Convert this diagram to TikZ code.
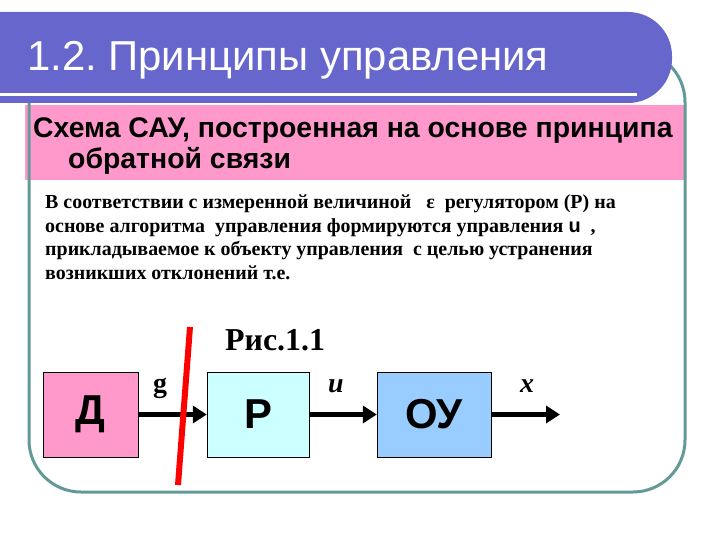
\documentclass[tikz,border=0pt]{standalone}
\usepackage{fontspec}
\setmainfont{Liberation Serif}
\newfontfamily\arialfont{Liberation Sans}
\usetikzlibrary{arrows.meta}
\definecolor{barblue}{RGB}{102,102,204}
\definecolor{bandpink}{RGB}{255,153,204}
\definecolor{frameteal}{RGB}{99,153,150}
\definecolor{regcyan}{RGB}{204,255,255}
\definecolor{objblue}{RGB}{153,204,255}
\frenchspacing

\begin{document}
\begin{tikzpicture}[x=1bp, y=-1bp,
  block/.style={draw=black, thin, minimum height=85bp, inner sep=0pt,
    font=\arialfont\bfseries\fontsize{42}{42}\selectfont},
  signal/.style={black, line width=5bp, -{Triangle[length=14bp,width=17bp]}},
  siglabel/.style={font=\bfseries\fontsize{28}{28}\selectfont},
  bodyline/.style={anchor=base west, inner sep=0pt,
    font=\bfseries\fontsize{20}{20}\selectfont}]
\useasboundingbox (0,0) rectangle (720,540);

% BAND
  \fill[bandpink] (25,105) rectangle (685,180);

% FRAME
  \draw[frameteal, line width=3bp, rounded corners=52bp] (29,50) rectangle (685,492);

% TITLE BAR
  \fill[barblue, rounded corners=44bp] (-60,12) rectangle (672,103);
  \draw[white, line width=3bp] (0,95) -- (637,95);
  \node[anchor=base west, inner sep=0pt, text=white,
        font=\arialfont\fontsize{42}{42}\selectfont] (title) at (27,71) {1.2. Принципы управления};

% SUBTITLE
  \node[anchor=base west, inner sep=0pt, font=\arialfont\bfseries\fontsize{28.5}{28.5}\selectfont]
        (sub1) at (33,138) {Схема САУ, построенная на основе принципа};
  \node[anchor=base west, inner sep=0pt, font=\arialfont\bfseries\fontsize{28.5}{28.5}\selectfont]
        (sub2) at (68,169) {обратной связи};

% TEXT
  \node[bodyline] (line1) at (45,209) {В соответствии с измеренной величиной \ \ ε \ регулятором (Р) на};
  \node[bodyline] (line2) at (45,232.5) {основе алгоритма \ управления формируются управления {\arialfont u} \ ,};
  \node[bodyline] (line3) at (45,256) {прикладываемое к объекту управления \ с целью устранения};
  \node[bodyline] (line4) at (45,279.5) {возникших отклонений т.е.};

  \node[anchor=base west, inner sep=0pt, font=\bfseries\fontsize{32}{32}\selectfont] (fig) at (225,350) {Рис.1.1};

% BLOCKS
  \node[block, fill=bandpink, minimum width=95bp] (sensor) at (90.5,414.5) {Д};
  \node[block, fill=regcyan, minimum width=102bp] (reg) at (258,414.5) {Р};
  \node[block, fill=objblue, minimum width=114bp] (obj) at (434,414.5) {ОУ};
  \coordinate (out) at (560,414.5);

  \draw[signal] (sensor) -- (reg);
  \draw[signal] (reg) -- (obj);
  \draw[signal] (obj) -- (out);

  \node[siglabel] (g) at (160,388) {g};
  \node[siglabel] (u) at (336,386) {\itshape u};
  \node[siglabel] (x) at (527,386) {\itshape x};

% CUT
  \draw[red, line width=6bp] (190,327) -- (178,485);
\end{tikzpicture}
\end{document}
